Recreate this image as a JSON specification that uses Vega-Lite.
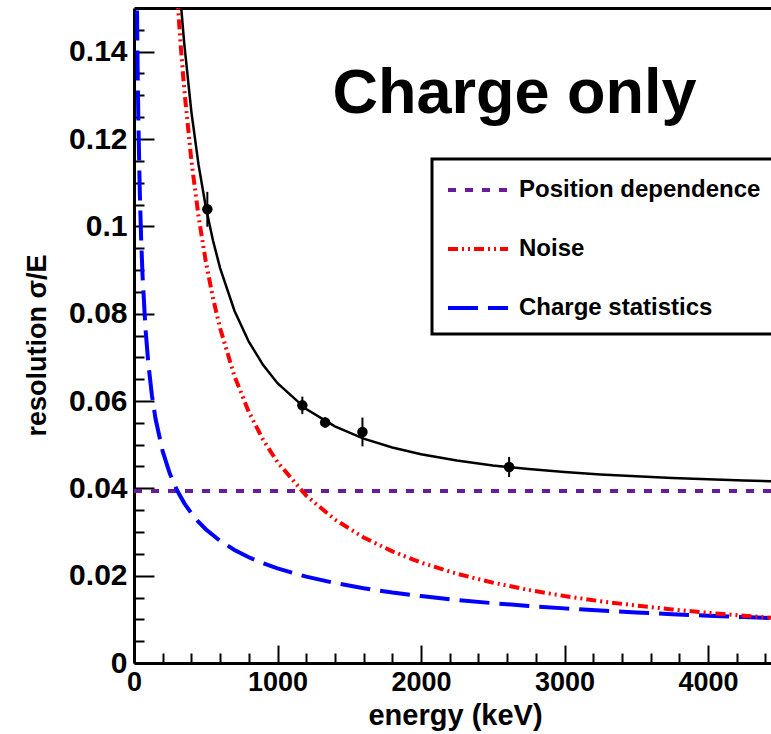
{
  "$schema": "https://vega.github.io/schema/vega-lite/v6.json",
  "width": 637,
  "height": 655,
  "autosize": {"type": "none"},
  "padding": {"left": 134, "top": 8, "right": 0, "bottom": 71},
  "background": "white",
  "config": {"view": {"stroke": null}, "font": "Liberation Sans"},
  "datasets": {
    "curves": [
      {"E": 0, "value": 0.0394, "series": "Position dependence"},
      {"E": 4500, "value": 0.0394, "series": "Position dependence"},
      {"E": 15, "value": 0.1769, "series": "Charge statistics"},
      {"E": 20, "value": 0.15317, "series": "Charge statistics"},
      {"E": 25, "value": 0.1370, "series": "Charge statistics"},
      {"E": 30, "value": 0.12507, "series": "Charge statistics"},
      {"E": 40, "value": 0.1083, "series": "Charge statistics"},
      {"E": 50, "value": 0.09687, "series": "Charge statistics"},
      {"E": 60, "value": 0.08843, "series": "Charge statistics"},
      {"E": 80, "value": 0.07659, "series": "Charge statistics"},
      {"E": 100, "value": 0.0685, "series": "Charge statistics"},
      {"E": 125, "value": 0.06127, "series": "Charge statistics"},
      {"E": 150, "value": 0.05593, "series": "Charge statistics"},
      {"E": 200, "value": 0.04844, "series": "Charge statistics"},
      {"E": 250, "value": 0.04332, "series": "Charge statistics"},
      {"E": 300, "value": 0.03955, "series": "Charge statistics"},
      {"E": 350, "value": 0.03662, "series": "Charge statistics"},
      {"E": 400, "value": 0.03425, "series": "Charge statistics"},
      {"E": 450, "value": 0.03229, "series": "Charge statistics"},
      {"E": 500, "value": 0.03063, "series": "Charge statistics"},
      {"E": 600, "value": 0.02797, "series": "Charge statistics"},
      {"E": 700, "value": 0.02589, "series": "Charge statistics"},
      {"E": 800, "value": 0.02422, "series": "Charge statistics"},
      {"E": 900, "value": 0.02283, "series": "Charge statistics"},
      {"E": 1000, "value": 0.02166, "series": "Charge statistics"},
      {"E": 1200, "value": 0.01977, "series": "Charge statistics"},
      {"E": 1400, "value": 0.01831, "series": "Charge statistics"},
      {"E": 1600, "value": 0.01713, "series": "Charge statistics"},
      {"E": 1800, "value": 0.01615, "series": "Charge statistics"},
      {"E": 2000, "value": 0.01532, "series": "Charge statistics"},
      {"E": 2250, "value": 0.01444, "series": "Charge statistics"},
      {"E": 2500, "value": 0.0137, "series": "Charge statistics"},
      {"E": 2750, "value": 0.01306, "series": "Charge statistics"},
      {"E": 3000, "value": 0.01251, "series": "Charge statistics"},
      {"E": 3250, "value": 0.01202, "series": "Charge statistics"},
      {"E": 3500, "value": 0.01158, "series": "Charge statistics"},
      {"E": 3750, "value": 0.01119, "series": "Charge statistics"},
      {"E": 4000, "value": 0.01083, "series": "Charge statistics"},
      {"E": 4250, "value": 0.01051, "series": "Charge statistics"},
      {"E": 4500, "value": 0.01021, "series": "Charge statistics"},
      {"E": 300, "value": 0.15333, "series": "Noise"},
      {"E": 325, "value": 0.14154, "series": "Noise"},
      {"E": 350, "value": 0.13143, "series": "Noise"},
      {"E": 400, "value": 0.115, "series": "Noise"},
      {"E": 450, "value": 0.10222, "series": "Noise"},
      {"E": 500, "value": 0.092, "series": "Noise"},
      {"E": 550, "value": 0.08364, "series": "Noise"},
      {"E": 600, "value": 0.07667, "series": "Noise"},
      {"E": 700, "value": 0.06571, "series": "Noise"},
      {"E": 800, "value": 0.0575, "series": "Noise"},
      {"E": 900, "value": 0.05111, "series": "Noise"},
      {"E": 1000, "value": 0.046, "series": "Noise"},
      {"E": 1200, "value": 0.03833, "series": "Noise"},
      {"E": 1400, "value": 0.03286, "series": "Noise"},
      {"E": 1600, "value": 0.02875, "series": "Noise"},
      {"E": 1800, "value": 0.02556, "series": "Noise"},
      {"E": 2000, "value": 0.023, "series": "Noise"},
      {"E": 2250, "value": 0.02044, "series": "Noise"},
      {"E": 2500, "value": 0.0184, "series": "Noise"},
      {"E": 2750, "value": 0.01673, "series": "Noise"},
      {"E": 3000, "value": 0.01533, "series": "Noise"},
      {"E": 3250, "value": 0.01415, "series": "Noise"},
      {"E": 3500, "value": 0.01314, "series": "Noise"},
      {"E": 3750, "value": 0.01227, "series": "Noise"},
      {"E": 4000, "value": 0.0115, "series": "Noise"},
      {"E": 4250, "value": 0.01082, "series": "Noise"},
      {"E": 4500, "value": 0.01022, "series": "Noise"},
      {"E": 300, "value": 0.16308, "series": "Total"},
      {"E": 325, "value": 0.15165, "series": "Total"},
      {"E": 350, "value": 0.1419, "series": "Total"},
      {"E": 400, "value": 0.12617, "series": "Total"},
      {"E": 450, "value": 0.11407, "series": "Total"},
      {"E": 500, "value": 0.10451, "series": "Total"},
      {"E": 550, "value": 0.0968, "series": "Total"},
      {"E": 600, "value": 0.09045, "series": "Total"},
      {"E": 700, "value": 0.08068, "series": "Total"},
      {"E": 800, "value": 0.07358, "series": "Total"},
      {"E": 900, "value": 0.06822, "series": "Total"},
      {"E": 1000, "value": 0.06408, "series": "Total"},
      {"E": 1200, "value": 0.05815, "series": "Total"},
      {"E": 1400, "value": 0.05419, "series": "Total"},
      {"E": 1600, "value": 0.05139, "series": "Total"},
      {"E": 1800, "value": 0.04935, "series": "Total"},
      {"E": 2000, "value": 0.0478, "series": "Total"},
      {"E": 2250, "value": 0.04635, "series": "Total"},
      {"E": 2500, "value": 0.04525, "series": "Total"},
      {"E": 2750, "value": 0.04441, "series": "Total"},
      {"E": 3000, "value": 0.04374, "series": "Total"},
      {"E": 3250, "value": 0.04319, "series": "Total"},
      {"E": 3500, "value": 0.04276, "series": "Total"},
      {"E": 3750, "value": 0.04239, "series": "Total"},
      {"E": 4000, "value": 0.04207, "series": "Total"},
      {"E": 4250, "value": 0.04181, "series": "Total"},
      {"E": 4500, "value": 0.04158, "series": "Total"}
    ],
    "points": [
      {"E": 511, "res": 0.1039, "lo": 0.0999, "hi": 0.1079},
      {"E": 1173, "res": 0.059, "lo": 0.057, "hi": 0.061},
      {"E": 1332, "res": 0.0551, "lo": 0.0539, "hi": 0.0563},
      {"E": 1592, "res": 0.0529, "lo": 0.0496, "hi": 0.0562},
      {"E": 2614, "res": 0.0449, "lo": 0.0426, "hi": 0.0472}
    ]
  },
  "layer": [
    {
      "data": {"name": "curves"},
      "transform": [{"filter": "datum.series !== 'Total'"}],
      "mark": {"type": "line", "clip": true, "strokeWidth": 4},
      "encoding": {
        "x": {
          "field": "E", "type": "quantitative",
          "scale": {"domain": [0, 4439], "nice": false, "zero": false},
          "axis": {
            "orient": "bottom", "values": [0, 1000, 2000, 3000, 4000], "format": "d",
            "grid": false, "ticks": false, "tickSize": 0,
            "domainColor": "black", "domainWidth": 3,
            "labelFont": "Liberation Sans", "labelFontSize": 27, "labelFontWeight": "bold",
            "labelColor": "black", "labelPadding": 6, "labelFlush": false, "labelOverlap": false,
            "title": "energy (keV)", "titleFont": "Liberation Sans", "titleFontSize": 29,
            "titleFontWeight": "bold", "titleColor": "black",
            "titleX": 321, "titleY": 61, "titleBaseline": "alphabetic", "titleAlign": "center"
          }
        },
        "y": {
          "field": "value", "type": "quantitative",
          "scale": {"domain": [0, 0.15], "nice": false, "zero": false},
          "axis": {
            "orient": "left", "values": [0, 0.02, 0.04, 0.06, 0.08, 0.1, 0.12, 0.14], "format": "~g",
            "grid": false, "ticks": false, "tickSize": 0,
            "domainColor": "black", "domainWidth": 3,
            "labelFont": "Liberation Sans", "labelFontSize": 30, "labelFontWeight": "bold",
            "labelColor": "black", "labelPadding": 7, "labelFlush": false, "labelOverlap": false,
            "title": "resolution σ/E", "titleFont": "Liberation Sans", "titleFontSize": 27,
            "titleFontWeight": "bold", "titleColor": "black",
            "titleX": -97, "titleY": 337, "titleAngle": -90, "titleAlign": "center", "titleBaseline": "middle"
          }
        },
        "color": {
          "field": "series", "type": "nominal",
          "scale": {"domain": ["Position dependence", "Noise", "Charge statistics"], "range": ["#6a1b9a", "#ff0000", "#0000ff"]},
          "legend": {
            "orient": "none", "legendX": 298, "legendY": 151, "title": null,
            "symbolType": "M-1,0H3", "symbolSize": 900, "symbolStrokeWidth": 4,
            "labelFont": "Liberation Sans", "labelFontSize": 24, "labelFontWeight": "bold",
            "labelColor": "black", "labelOffset": 39, "labelLimit": 600,
            "labelExpr": "datum.label + '\u00a0\u00a0\u00a0\u00a0'",
            "padding": 14, "rowPadding": 30, "fillColor": "white", "strokeColor": "black",
            "cornerRadius": 0,
            "encode": {"legend": {"update": {"strokeWidth": {"value": 3}}}}
          }
        },
        "strokeDash": {
          "field": "series", "type": "nominal",
          "scale": {"domain": ["Position dependence", "Noise", "Charge statistics"], "range": [[8, 9], [10, 4, 2, 4, 2, 4], [30, 10]]},
          "legend": {
            "orient": "none", "legendX": 298, "legendY": 151, "title": null,
            "symbolType": "M-1,0H3", "symbolSize": 900, "symbolStrokeWidth": 4,
            "labelFont": "Liberation Sans", "labelFontSize": 24, "labelFontWeight": "bold",
            "labelColor": "black", "labelOffset": 39, "labelLimit": 600,
            "labelExpr": "datum.label + '\u00a0\u00a0\u00a0\u00a0'",
            "padding": 14, "rowPadding": 30, "fillColor": "white", "strokeColor": "black",
            "cornerRadius": 0,
            "encode": {"legend": {"update": {"strokeWidth": {"value": 3}}}}
          }
        }
      }
    },
    {
      "data": {"name": "curves"},
      "transform": [{"filter": "datum.series === 'Total'"}],
      "mark": {"type": "line", "clip": true, "strokeWidth": 2.5, "color": "black"},
      "encoding": {
        "x": {
          "field": "E", "type": "quantitative",
          "scale": {"domain": [0, 4439], "nice": false, "zero": false},
          "axis": {
            "orient": "top", "offset": -655, "values": [0, 1000, 2000, 3000, 4000],
            "grid": false, "domain": false, "labels": false, "title": null,
            "ticks": true, "tickSize": 18, "tickWidth": 2, "tickColor": "black"
          }
        },
        "y": {
          "field": "value", "type": "quantitative",
          "scale": {"domain": [0, 0.15], "nice": false, "zero": false},
          "axis": {
            "orient": "right", "offset": -637, "values": [0, 0.02, 0.04, 0.06, 0.08, 0.1, 0.12, 0.14],
            "grid": false, "domain": false, "labels": false, "title": null,
            "ticks": true, "tickSize": 20, "tickWidth": 2, "tickColor": "black"
          }
        }
      }
    },
    {
      "data": {"name": "points"},
      "mark": {"type": "rule", "strokeWidth": 2, "color": "black"},
      "encoding": {
        "x": {
          "field": "E", "type": "quantitative",
          "scale": {"domain": [0, 4439], "nice": false, "zero": false},
          "axis": {
            "orient": "top", "offset": -655, "values": [200, 400, 600, 800, 1200, 1400, 1600, 1800, 2200, 2400, 2600, 2800, 3200, 3400, 3600, 3800, 4200, 4400],
            "grid": false, "domain": false, "labels": false, "title": null,
            "ticks": true, "tickSize": 10, "tickWidth": 2, "tickColor": "black"
          }
        },
        "y": {
          "field": "lo", "type": "quantitative",
          "scale": {"domain": [0, 0.15], "nice": false, "zero": false},
          "axis": {
            "orient": "right", "offset": -637, "values": [0.005, 0.01, 0.015, 0.025, 0.03, 0.035, 0.045, 0.05, 0.055, 0.065, 0.07, 0.075, 0.085, 0.09, 0.095, 0.105, 0.11, 0.115, 0.125, 0.13, 0.135, 0.145],
            "grid": false, "domain": false, "labels": false, "title": null,
            "ticks": true, "tickSize": 10, "tickWidth": 2, "tickColor": "black"
          }
        },
        "y2": {"field": "hi"}
      }
    },
    {
      "data": {"name": "points"},
      "mark": {"type": "point", "filled": true, "size": 110, "color": "black", "opacity": 1},
      "encoding": {
        "x": {
          "field": "E", "type": "quantitative",
          "scale": {"domain": [0, 4439], "nice": false, "zero": false},
          "axis": {
            "orient": "top", "grid": false, "domain": true, "domainColor": "black", "domainWidth": 3,
            "ticks": false, "tickSize": 0, "labels": false, "title": null
          }
        },
        "y": {"field": "res", "type": "quantitative", "scale": {"domain": [0, 0.15], "nice": false, "zero": false}, "axis": null}
      }
    },
    {
      "data": {"values": [{"label": "Charge only", "E": 2652, "res": 0.1259}]},
      "mark": {"type": "text", "font": "Liberation Sans", "fontSize": 63, "fontWeight": "bold", "align": "center", "baseline": "alphabetic", "color": "black"},
      "encoding": {
        "x": {"field": "E", "type": "quantitative", "scale": {"domain": [0, 4439], "nice": false, "zero": false}, "axis": null},
        "y": {"field": "res", "type": "quantitative", "scale": {"domain": [0, 0.15], "nice": false, "zero": false}, "axis": null},
        "text": {"field": "label"}
      }
    }
  ],
  "resolve": {"axis": {"x": "independent", "y": "independent"}}
}
